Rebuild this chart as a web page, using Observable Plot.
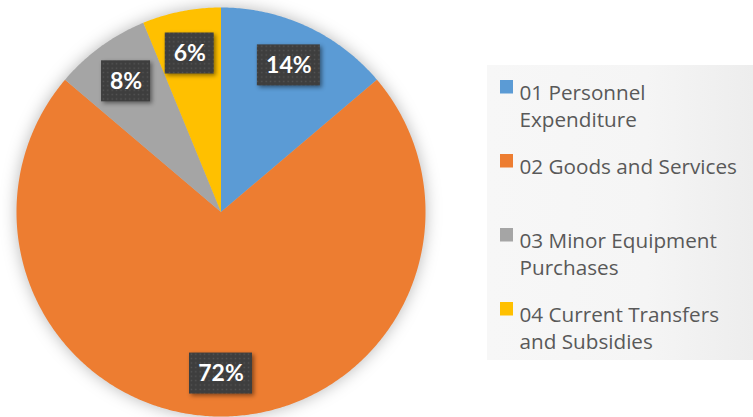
<!DOCTYPE html>
<html><head><meta charset="utf-8">
<script src="https://cdn.jsdelivr.net/npm/d3@7"></script>
<script src="https://cdn.jsdelivr.net/npm/@observablehq/plot@0.6"></script>
<style>
html,body{margin:0;padding:0;background:#fff;}
#chart svg{display:block;}
g[aria-description="pie"]{filter:drop-shadow(0 0 8px rgba(0,0,0,0.28));}
g[aria-description="label-box"]{filter:drop-shadow(2px 2px 2px rgba(0,0,0,0.45));}
</style></head><body><div id="chart"></div>
<script>
// ---- data ----
const categories = ["01 Personnel Expenditure","02 Goods and Services","03 Minor Equipment Purchases","04 Current Transfers and Subsidies"];
const legendLabels = ["01 Personnel\nExpenditure","02 Goods and Services","03 Minor Equipment\nPurchases","04 Current Transfers\nand Subsidies"];
const shares = [13.8, 72.4, 7.6, 6.2];
const percentLabels = ["14%","72%","8%","6%"];
const colors = ["#5B9BD5","#ED7D31","#A5A5A5","#FFC000"];

// ---- layout (pixels) ----
const W = 753, H = 417, CX = 220.5, CY = 211.5, R = 204.5;
const toX = px => (px - CX) / R, toY = py => (CY - py) / R;

const arcs = d3.pie().sort(null).value(d => d)(shares);
const pts = [];
arcs.forEach((a, i) => {
  const n = Math.max(2, Math.ceil((a.endAngle - a.startAngle) / 0.01));
  pts.push({cat: categories[i], x: 0, y: 0});
  for (let k = 0; k <= n; k++) {
    const t = a.startAngle + (a.endAngle - a.startAngle) * k / n;
    pts.push({cat: categories[i], x: Math.sin(t), y: Math.cos(t)});
  }
  pts.push({cat: categories[i], x: 0, y: 0});
});

const labelR = 0.79;
const labels = arcs.map((a, i) => {
  const m = (a.startAngle + a.endAngle) / 2;
  const x = labelR * Math.sin(m), y = labelR * Math.cos(m);
  const hw = (14 * percentLabels[i].length + 21) / 2 / R, hh = 20.5 / R;
  return {x, y, text: percentLabels[i], x1: x - hw, x2: x + hw, y1: y - hh, y2: y + hh};
});

const legendRows = categories.map((c, i) => {
  const top = 80 + 74 * i;
  return {cat: c, text: legendLabels[i],
    x1: toX(500), x2: toX(513), y1: toY(top), y2: toY(top + 13.5),
    tx: toX(519), ty: toY(top)};
});

const chart = Plot.plot({
  width: W, height: H, margin: 0,
  x: {domain: [-1, 1], range: [CX - R, CX + R], axis: null},
  y: {domain: [-1, 1], range: [CY + R, CY - R], axis: null},
  color: {domain: categories, range: colors},
  style: {background: "transparent", overflow: "visible"},
  marks: [
    Plot.rect([0], {x1: toX(487), x2: toX(753), y1: toY(65), y2: toY(360), fill: "url(#legendGrad)"}),
    Plot.line(pts, {x: "x", y: "y", z: "cat", fill: "cat", stroke: "none", curve: "linear", ariaDescription: "pie"}),
    Plot.rect(labels, {x1: "x1", x2: "x2", y1: "y1", y2: "y2", fill: "url(#dots)", ariaDescription: "label-box"}),
    Plot.text(labels, {x: "x", y: "y", text: "text", fill: "white", fontSize: 23, fontWeight: "bold", fontFamily: "Lato"}),
    Plot.rect(legendRows, {x1: "x1", x2: "x2", y1: "y1", y2: "y2", fill: "cat"}),
    Plot.text(legendRows, {x: "tx", y: "ty", text: "text", textAnchor: "start", lineAnchor: "top", lineHeight: 1.31, fontSize: 20.7, fill: "#595959", fontFamily: "Open Sans"})
  ]
});

const ns = "http://www.w3.org/2000/svg";
const defs = document.createElementNS(ns, "defs");
defs.innerHTML = `<pattern id="dots" width="4.4" height="4.4" patternUnits="userSpaceOnUse"><rect width="4.4" height="4.4" fill="#3e3e3e"/><rect x="1.5" y="1.5" width="1.4" height="1.4" fill="#565656"/></pattern>
<linearGradient id="legendGrad" x1="0" x2="1" y1="0" y2="0"><stop offset="0" stop-color="#f7f7f7"/><stop offset="0.6" stop-color="#f5f5f5"/><stop offset="1" stop-color="#ededed"/></linearGradient>`;
chart.insertBefore(defs, chart.firstChild);
document.getElementById("chart").appendChild(chart);
</script></body></html>
